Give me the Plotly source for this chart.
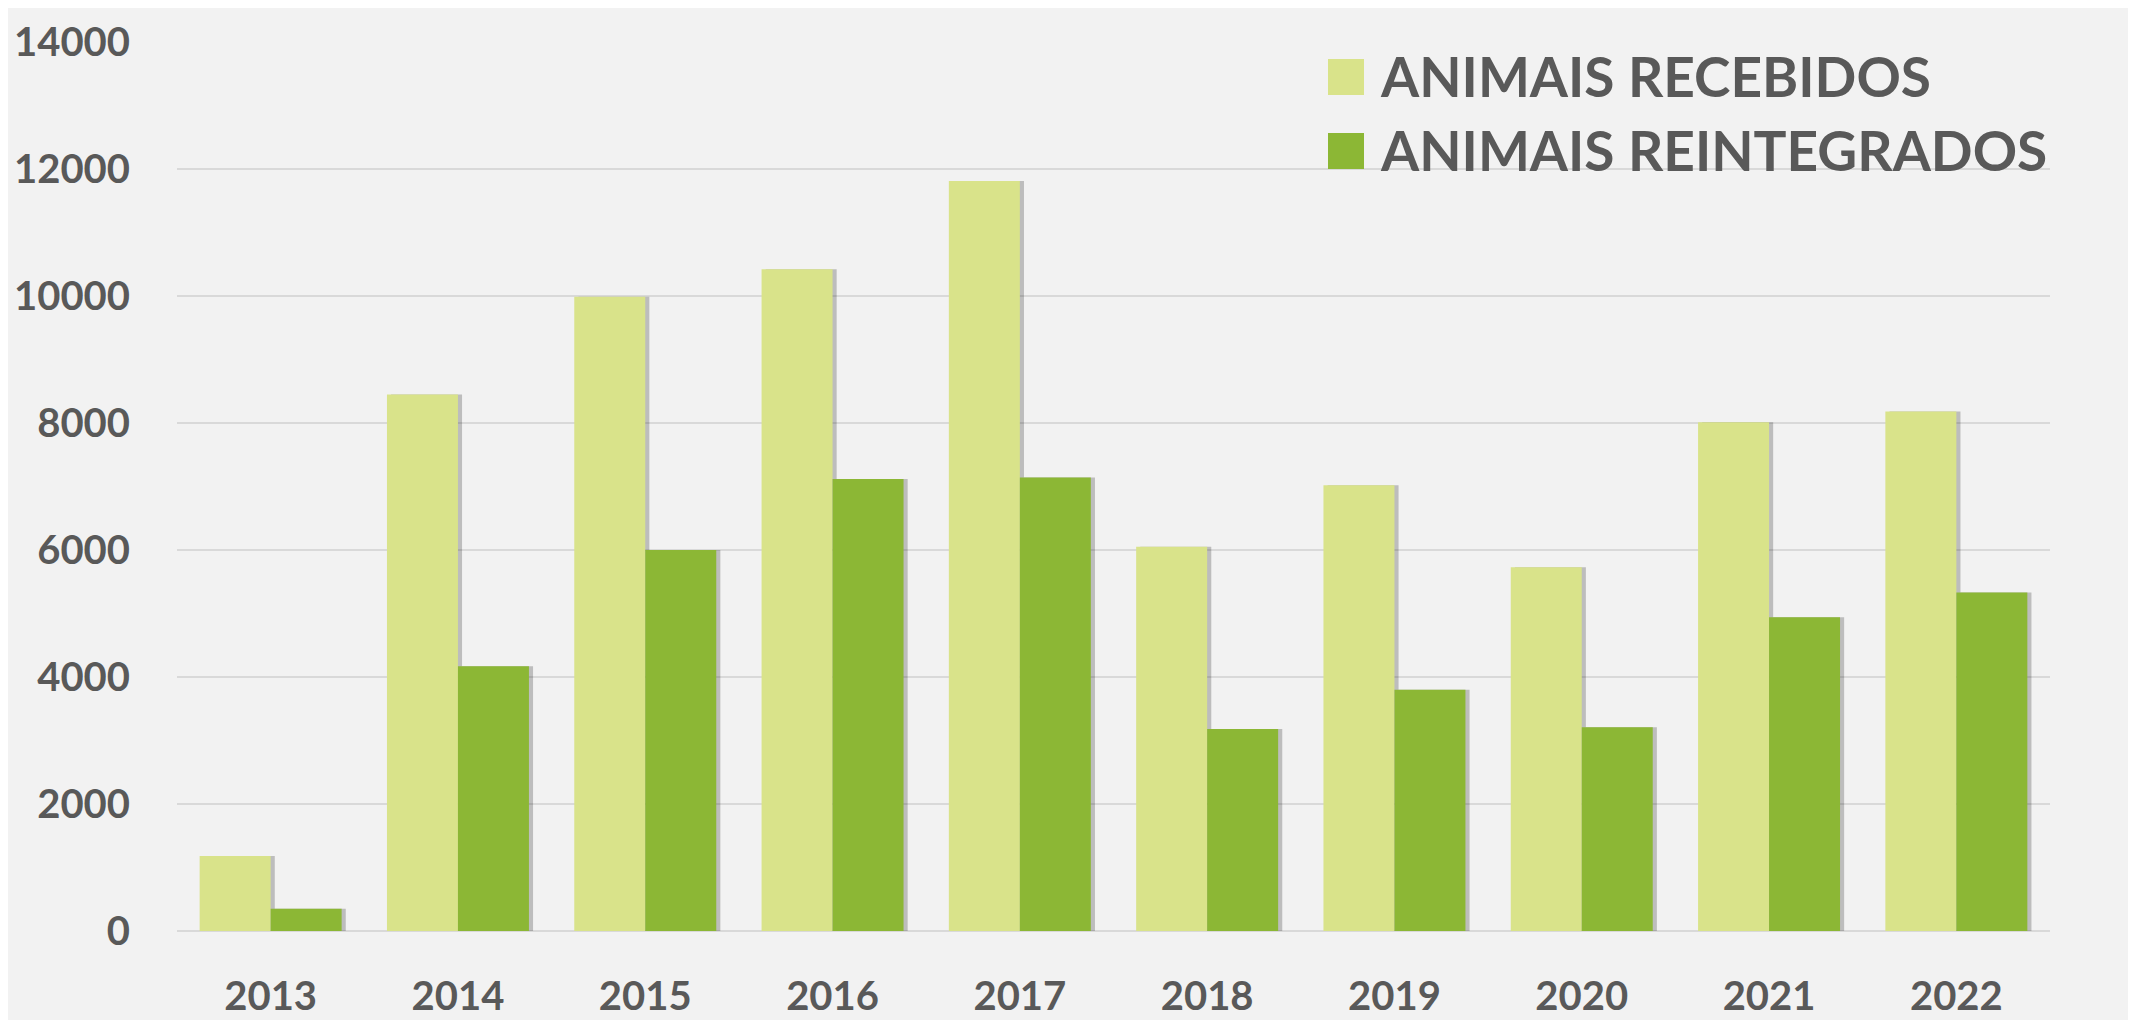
import plotly.graph_objects as go

years = ["2013", "2014", "2015", "2016", "2017", "2018", "2019", "2020", "2021", "2022"]
recebidos = [1180, 8450, 9990, 10420, 11810, 6050, 7020, 5730, 8010, 8180]
reintegrados = [350, 4170, 6000, 7120, 7140, 3180, 3800, 3210, 4940, 5330]
series_names = ["ANIMAIS RECEBIDOS", "ANIMAIS REINTEGRADOS"]
y_ticks = [0, 2000, 4000, 6000, 8000, 10000, 12000, 14000]

LIGHT = "#d9e38a"
DARK = "#8cb735"
TEXT = "#595959"
FONT = "Lato"

BAR_W = 0.379      # each bar, in category units
SHADOW_DX = 0.022  # small drop shadow to the right

fig = go.Figure()
# soft shadows first, then the bars on top
for vals, off in [(recebidos, -BAR_W), (reintegrados, 0)]:
    fig.add_trace(go.Bar(x=years, y=vals, width=BAR_W, offset=off + SHADOW_DX,
                         marker=dict(color="rgba(0,0,0,0.22)", line=dict(width=0)),
                         hoverinfo="skip", showlegend=False))
fig.add_trace(go.Bar(x=years, y=recebidos, name=series_names[0], width=BAR_W, offset=-BAR_W,
                     marker=dict(color=LIGHT, line=dict(width=0))))
fig.add_trace(go.Bar(x=years, y=reintegrados, name=series_names[1], width=BAR_W, offset=0,
                     marker=dict(color=DARK, line=dict(width=0))))

# the page body adds 8px on top/left, so figure coords = page coords - 8
# plot area on the page: x 177..2050, y 42..931
pw, ph = 1873.0, 889.0
def px_x(p):
    return (p - 177) / pw
def px_y(p):
    return (931 - p) / ph

shapes = [
    # grey card behind the chart
    dict(type="rect", xref="paper", yref="paper", layer="below",
         x0=px_x(8), x1=px_x(2129), y0=px_y(1030), y1=px_y(5),
         fillcolor="#f2f2f2", line=dict(width=0)),
]
annotations = []
# hand-drawn legend (big square swatches)
for i, (name, col) in enumerate(zip(series_names, [LIGHT, DARK])):
    top = 59 + i * 74
    shapes.append(dict(type="rect", xref="paper", yref="paper",
                       x0=px_x(1328), x1=px_x(1364), y0=px_y(top + 36), y1=px_y(top),
                       fillcolor=col, line=dict(width=0)))
    annotations.append(dict(text=name, xref="paper", yref="paper",
                            x=px_x(1378), y=px_y(top + 17), xanchor="left", yanchor="middle",
                            showarrow=False,
                            font=dict(family=FONT, size=55, color=TEXT, weight="bold")))

fig.update_layout(
    width=2128, height=1012,
    margin=dict(l=169, r=86, t=34, b=89),
    paper_bgcolor="white", plot_bgcolor="#f2f2f2",
    barmode="overlay",
    showlegend=False,
    shapes=shapes, annotations=annotations,
    font=dict(family=FONT, color=TEXT),
)
fig.update_xaxes(showgrid=False, showline=False, ticks="", automargin=False,
                 range=[-0.5, 9.5],
                 tickfont=dict(family=FONT, size=40, color=TEXT, weight="bold"),
                 ticklabelstandoff=38)
fig.update_yaxes(range=[0, 14000], tickvals=y_ticks, tickformat="d", automargin=False,
                 showgrid=True, gridcolor="#d9d9d9", gridwidth=2,
                 zeroline=True, zerolinecolor="#d9d9d9", zerolinewidth=2,
                 showline=False, ticks="",
                 tickfont=dict(family=FONT, size=40, color=TEXT, weight="bold"),
                 ticklabelstandoff=46)

fig.write_html("out.html")
